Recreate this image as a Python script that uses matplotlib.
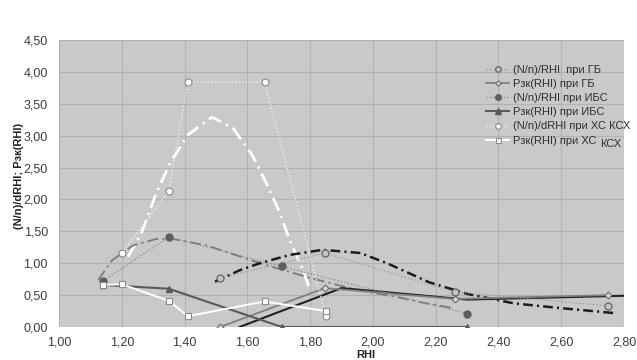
import matplotlib
matplotlib.use("Agg")
import matplotlib.pyplot as plt
from matplotlib.ticker import FuncFormatter, MultipleLocator

plt.rcParams['font.family'] = ['Liberation Sans', 'DejaVu Sans']
plt.rcParams['lines.scale_dashes'] = False

# --- data -------------------------------------------------------------
# ГБ
rhi_gb = [1.513, 1.847, 2.26, 2.75]
nn_gb = [0.77, 1.16, 0.55, 0.33]
pzk_gb = [0.00, 0.61, 0.44, 0.50]
rhi_gb_line = [1.575, 1.90, 2.30, 2.80]
pzk_gb_line = [0.00, 0.61, 0.43, 0.49]
trend_gb_x = [1.497, 1.576, 1.64, 1.735, 1.84, 1.96, 2.045, 2.18, 2.30, 2.45, 2.59, 2.765]
trend_gb_y = [0.71, 0.89, 1.00, 1.13, 1.21, 1.16, 1.00, 0.70, 0.52, 0.37, 0.30, 0.22]

# ИБС
rhi_ibs = [1.14, 1.35, 1.71, 2.30]
nn_ibs = [0.72, 1.41, 0.95, 0.21]
pzk_ibs = [0.66, 0.60, 0.00, 0.00]
trend_ibs_x = [1.125, 1.17, 1.236, 1.31, 1.363, 1.47, 1.567, 1.66, 1.80, 1.95, 2.076, 2.15, 2.25]
trend_ibs_y = [0.74, 1.05, 1.28, 1.38, 1.38, 1.28, 1.12, 0.97, 0.77, 0.58, 0.47, 0.39, 0.30]

# ХС КСХ
rhi_xs = [1.20, 1.35, 1.41, 1.655, 1.85]
nn_xs = [1.16, 2.13, 3.84, 3.84, 0.17]
rhi_xs_p = [1.14, 1.20, 1.35, 1.41, 1.655, 1.85]
pzk_xs = [0.66, 0.67, 0.41, 0.17, 0.40, 0.25]
trend_xs_x = [1.22, 1.236, 1.264, 1.31, 1.354, 1.41, 1.487, 1.554, 1.615, 1.66, 1.70, 1.735, 1.775, 1.80]
trend_xs_y = [1.10, 1.24, 1.49, 2.10, 2.57, 3.01, 3.29, 3.12, 2.70, 2.26, 1.83, 1.36, 0.92, 0.58]

labels = ['(N/n)/RHI  при ГБ', 'Рзк(RHI) при ГБ', '(N/n)/RHI при ИБС',
          'Рзк(RHI) при ИБС', '(N/n)/dRHI при ХС КСХ', 'Рзк(RHI) при ХС']

# --- figure -----------------------------------------------------------
fig = plt.figure(figsize=(6.37, 3.6), dpi=100)
ax = fig.add_axes([59 / 637, 33 / 360, 565 / 637, 287 / 360])
ax.set_facecolor('#c9c9cb')
for s in ax.spines.values():
    s.set_visible(False)
ax.set_xlim(1.0, 2.8)
ax.set_ylim(0.0, 4.5)
ax.xaxis.set_major_locator(MultipleLocator(0.2))
ax.yaxis.set_major_locator(MultipleLocator(0.5))
fmt = FuncFormatter(lambda v, p: f"{v:.2f}".replace('.', ','))
ax.xaxis.set_major_formatter(fmt)
ax.yaxis.set_major_formatter(fmt)
ax.tick_params(length=0, labelsize=9, labelcolor='#3c3c3c')
ax.tick_params(axis='y', pad=8)
ax.tick_params(axis='x', pad=7)
ax.grid(True, color='#b2b2b4', lw=0.8)
ax.set_axisbelow(True)

# trend curves
ax.plot(trend_xs_x, trend_xs_y, color='white', lw=2.0, ls=(0, (10, 4, 1.5, 4)), zorder=2)
ax.plot(trend_ibs_x, trend_ibs_y, color='#7a7a7a', lw=1.3, ls=(0, (8, 3, 1.5, 3)), zorder=2)
ax.plot(trend_gb_x, trend_gb_y, color='#1c1c1c', lw=1.8, ls=(0, (7, 3, 1.5, 3)), zorder=2)

# ГБ
h1, = ax.plot(rhi_gb, nn_gb, color='#9a9a9a', lw=0.9, ls=(0, (1, 1.5)),
              marker='o', ms=5, mfc='#c4c4c6', mec='#6a6a6a', mew=1.0, zorder=4)
h2, = ax.plot(rhi_gb, pzk_gb, color='#808080', lw=1.3,
              marker='D', ms=3.5, mfc='#d8d8d8', mec='#6e6e6e', mew=0.8, zorder=4)
ax.plot(rhi_gb_line, pzk_gb_line, color='#222222', lw=1.5, zorder=3)

# ИБС
h3, = ax.plot(rhi_ibs, nn_ibs, color='#8c8c8c', lw=0.9, ls=(0, (1, 1.5)),
              marker='o', ms=5, mfc='#5e5e5e', mec='#5e5e5e', zorder=4)
h4, = ax.plot(rhi_ibs, pzk_ibs, color='#5a5a5a', lw=1.5,
              marker='^', ms=5, mfc='#5a5a5a', mec='#5a5a5a', zorder=4)

# ХС КСХ
h5, = ax.plot(rhi_xs, nn_xs, color='#f2f2f2', lw=0.9, ls=(0, (1, 1.5)),
              marker='o', ms=5, mfc='white', mec='#8a8a8a', mew=0.8, zorder=4)
h6, = ax.plot(rhi_xs_p, pzk_xs, color='white', lw=1.4,
              marker='s', ms=4.5, mfc='white', mec='#8a8a8a', mew=0.8, zorder=4)

leg = fig.legend([h1, h2, h3, h4, h5, h6], labels, loc='upper left',
                 bbox_to_anchor=(486 / 637, 1 - 65 / 360), frameon=False,
                 fontsize=8, borderpad=0, borderaxespad=0, handlelength=2.1,
                 handletextpad=0.35, labelspacing=0.37, markerscale=0.8)
for t in leg.get_texts():
    t.set_color('#2e2e2e')
fig.text(600 / 637, 1 - 144 / 360, 'КСХ', fontsize=8, color='#2e2e2e',
         ha='left', va='center')

fig.text(366 / 637, 1 - 355 / 360, 'RHI', fontsize=8, fontweight='bold',
         color='#222222', ha='center', va='center')
fig.text(19 / 637, 1 - 176 / 360, '(N/n)/dRHI; Рзк(RHI)', fontsize=8,
         fontweight='bold', color='#222222', rotation=90, ha='center', va='center')

fig.savefig('out.png', dpi=100)
